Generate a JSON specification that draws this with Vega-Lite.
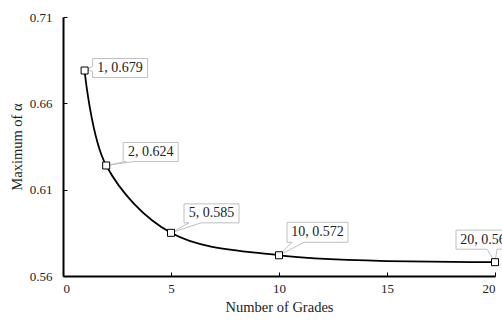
{
  "$schema": "https://vega.github.io/schema/vega-lite/v6.json",
  "width": 432,
  "height": 259,
  "autosize": {"type": "none"},
  "padding": {"left": 63, "top": 17, "right": 7, "bottom": 46},
  "background": "white",
  "config": {
    "view": {"stroke": null},
    "font": "Liberation Serif",
    "text": {"font": "Liberation Serif"},
    "axis": {
      "grid": false,
      "domainColor": "black",
      "domainWidth": 2,
      "tickColor": "black",
      "tickWidth": 1,
      "tickSize": -4,
      "labelFont": "Liberation Serif",
      "labelFontSize": 13,
      "labelColor": "#222222",
      "titleFont": "Liberation Serif",
      "titleFontSize": 14.5,
      "titleFontWeight": "normal",
      "titleColor": "#222222"
    }
  },
  "data": {
    "values": [
      {"grades": 1, "alpha": 0.679, "label": "1, 0.679"},
      {"grades": 2, "alpha": 0.624, "label": "2, 0.624"},
      {"grades": 5, "alpha": 0.585, "label": "5, 0.585"},
      {"grades": 10, "alpha": 0.572, "label": "10, 0.572"},
      {"grades": 20, "alpha": 0.568, "label": "20, 0.568"}
    ]
  },
  "encoding": {
    "x": {
      "field": "grades",
      "type": "quantitative",
      "scale": {"domain": [0, 20], "nice": false},
      "axis": {"values": [0, 5, 10, 15, 20], "title": "Number of Grades", "labelPadding": 10, "titleY": 24, "titleBaseline": "top"}
    },
    "y": {
      "field": "alpha",
      "type": "quantitative",
      "scale": {"domain": [0.56, 0.71], "nice": false, "zero": false},
      "axis": {"values": [0.56, 0.61, 0.66, 0.71], "format": ".2f", "title": "Maximum of α", "labelPadding": 15, "titleX": -46, "titleY": 129.5, "titleAngle": -90, "titleBaseline": "middle", "titleAlign": "center"}
    }
  },
  "layer": [
    {"mark": {"type": "line", "color": "black", "strokeWidth": 1.8, "interpolate": "catmull-rom", "clip": false}},
    {
      "transform": [{"filter": "datum.grades == 1"}],
      "layer": [
        {"mark": {"type": "point", "shape": "M8,-12H63V7H8V1L2,-1L8,-4Z", "size": 4, "filled": true, "fill": "white", "stroke": "#bfbfbf", "strokeWidth": 1, "opacity": 1}},
        {"mark": {"type": "text", "font": "Liberation Serif", "dx": 35.5, "dy": -2.5, "fontSize": 14, "color": "#222222", "align": "center", "baseline": "middle"}, "encoding": {"text": {"field": "label"}}}
      ]
    },
    {
      "transform": [{"filter": "datum.grades == 2"}],
      "layer": [
        {"mark": {"type": "point", "shape": "M17,-23H72V-4H28L0,0L20,-4H17Z", "size": 4, "filled": true, "fill": "white", "stroke": "#bfbfbf", "strokeWidth": 1, "opacity": 1}},
        {"mark": {"type": "text", "font": "Liberation Serif", "dx": 44.5, "dy": -13.5, "fontSize": 14, "color": "#222222", "align": "center", "baseline": "middle"}, "encoding": {"text": {"field": "label"}}}
      ]
    },
    {
      "transform": [{"filter": "datum.grades == 5"}],
      "layer": [
        {"mark": {"type": "point", "shape": "M13,-29H68V-10H30L0,0L18,-10H13Z", "size": 4, "filled": true, "fill": "white", "stroke": "#bfbfbf", "strokeWidth": 1, "opacity": 1}},
        {"mark": {"type": "text", "font": "Liberation Serif", "dx": 40.5, "dy": -19.5, "fontSize": 14, "color": "#222222", "align": "center", "baseline": "middle"}, "encoding": {"text": {"field": "label"}}}
      ]
    },
    {
      "transform": [{"filter": "datum.grades == 10"}],
      "layer": [
        {"mark": {"type": "point", "shape": "M8,-33H69V-13H25L0,0L13,-13H8Z", "size": 4, "filled": true, "fill": "white", "stroke": "#bfbfbf", "strokeWidth": 1, "opacity": 1}},
        {"mark": {"type": "text", "font": "Liberation Serif", "dx": 38.5, "dy": -23, "fontSize": 14, "color": "#222222", "align": "center", "baseline": "middle"}, "encoding": {"text": {"field": "label"}}}
      ]
    },
    {
      "transform": [{"filter": "datum.grades == 20"}],
      "layer": [
        {"mark": {"type": "point", "shape": "M-39,-32H22V-13H2L0,0L-8,-13H-39Z", "size": 4, "filled": true, "fill": "white", "stroke": "#bfbfbf", "strokeWidth": 1, "opacity": 1, "clip": false}},
        {"mark": {"type": "text", "font": "Liberation Serif", "dx": -8.5, "dy": -22.5, "fontSize": 14, "color": "#222222", "align": "center", "baseline": "middle"}, "encoding": {"text": {"field": "label"}}}
      ]
    },
    {"mark": {"type": "point", "shape": "square", "size": 49, "filled": true, "fill": "white", "stroke": "black", "strokeWidth": 1, "opacity": 1}}
  ]
}
